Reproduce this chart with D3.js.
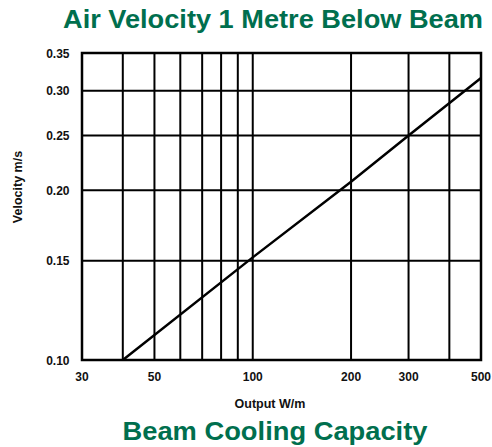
<!DOCTYPE html>
<html>
<head>
<meta charset="utf-8">
<script src="https://cdn.jsdelivr.net/npm/d3@7"></script>
<style>
  body { margin: 0; background: #fff; }
  svg text { font-family: "Liberation Sans", Arial, sans-serif; font-weight: bold; }
</style>
</head>
<body>
<svg id="chart" width="492" height="447"></svg>
<script>
// --- data ---
const xGrid = [30, 40, 50, 60, 70, 80, 90, 100, 200, 300, 400, 500];
const xLabels = [30, 50, 100, 200, 300, 500];
const yGrid = [0.10, 0.15, 0.20, 0.25, 0.30, 0.35];
const yLabels = ["0.10", "0.15", "0.20", "0.25", "0.30", "0.35"];
const outputW = [40, 100, 200, 300, 500];
const velocity = [0.10, 0.152, 0.207, 0.25, 0.316];

const green = "#006f4e";
const svg = d3.select("#chart");
const m = { left: 82, right: 481, top: 53, bottom: 360 };

const x = d3.scaleLog().domain([30, 500]).range([m.left, m.right]);
const y = d3.scaleLog().domain([0.10, 0.35]).range([m.bottom, m.top]);

// grid
svg.append("g").selectAll("line").data(xGrid).join("line")
  .attr("x1", d => x(d)).attr("x2", d => x(d))
  .attr("y1", m.top).attr("y2", m.bottom)
  .attr("stroke", "#000").attr("stroke-width", 2);
svg.append("g").selectAll("line").data(yGrid).join("line")
  .attr("x1", m.left).attr("x2", m.right)
  .attr("y1", d => y(d)).attr("y2", d => y(d))
  .attr("stroke", "#000").attr("stroke-width", 2);

// frame
svg.append("rect")
  .attr("x", m.left).attr("y", m.top)
  .attr("width", m.right - m.left).attr("height", m.bottom - m.top)
  .attr("fill", "none").attr("stroke", "#000").attr("stroke-width", 2.5);

// line
const pts = outputW.map((w, i) => [w, velocity[i]]);
svg.append("path").datum(pts)
  .attr("d", d3.line().x(d => x(d[0])).y(d => y(d[1])))
  .attr("fill", "none").attr("stroke", "#000").attr("stroke-width", 2.5);

// tick labels
svg.append("g").selectAll("text").data(xLabels).join("text")
  .attr("x", d => x(d)).attr("y", 381)
  .attr("text-anchor", "middle").attr("font-size", 12).attr("fill", "#111")
  .text(d => d);
svg.append("g").selectAll("text").data(yLabels).join("text")
  .attr("x", 69.5).attr("y", d => y(+d) + 4.5)
  .attr("text-anchor", "end").attr("font-size", 12).attr("fill", "#111")
  .text(d => d);

// axis titles
svg.append("text").attr("x", 270).attr("y", 408)
  .attr("text-anchor", "middle").attr("font-size", 12.5).attr("fill", "#111")
  .text("Output W/m");
svg.append("text").attr("transform", "translate(22,187) rotate(-90)")
  .attr("text-anchor", "middle").attr("font-size", 12.5).attr("fill", "#111")
  .text("Velocity m/s");

// titles (slightly wide in the original)
svg.append("text").attr("x", 273).attr("y", 28)
  .attr("text-anchor", "middle").attr("font-size", 25).attr("fill", green)
  .attr("textLength", 420).attr("lengthAdjust", "spacingAndGlyphs")
  .text("Air Velocity 1 Metre Below Beam");
svg.append("text").attr("x", 275).attr("y", 440)
  .attr("text-anchor", "middle").attr("font-size", 25).attr("fill", green)
  .attr("textLength", 305).attr("lengthAdjust", "spacingAndGlyphs")
  .text("Beam Cooling Capacity");
</script>
</body>
</html>
